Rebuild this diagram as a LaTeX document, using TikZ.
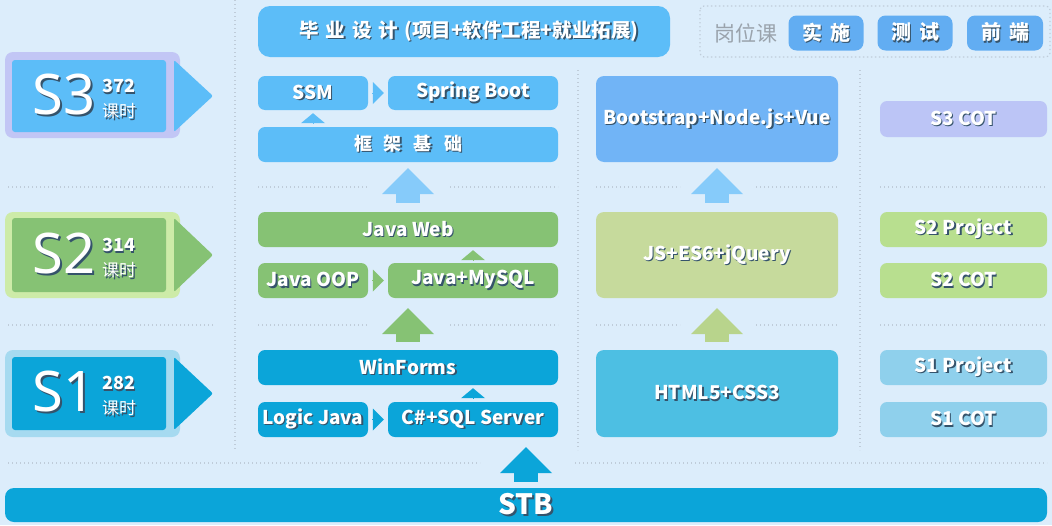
\documentclass[tikz,border=0pt]{standalone}
\usepackage{fontspec}
\setmainfont{Noto Sans CJK SC}
\newfontfamily\cjk{Noto Sans CJK SC}
\newfontfamily\bigf{Noto Sans}
\usetikzlibrary{arrows.meta,calc}
\definecolor{bg}{HTML}{DCEDFB}
\definecolor{cLB}{HTML}{5CBDF8}
\definecolor{cPill}{HTML}{62ADF2}
\definecolor{cBS}{HTML}{71B4F6}
\definecolor{cLav}{HTML}{BCC5F6}
\definecolor{cLavO}{HTML}{C2C6F5}
\definecolor{cArrLB}{HTML}{86CBFA}
\definecolor{cG}{HTML}{86C274}
\definecolor{cGO}{HTML}{CDEBA8}
\definecolor{cJS}{HTML}{C6DA9C}
\definecolor{cArrJS}{HTML}{B8D48C}
\definecolor{cGL}{HTML}{B8DF8F}
\definecolor{cT}{HTML}{0BA5D9}
\definecolor{cTO}{HTML}{A6DAF0}
\definecolor{cHT}{HTML}{4DBFE3}
\definecolor{cTL}{HTML}{8FD0EC}
\definecolor{tsh}{HTML}{35536B}
\definecolor{dotc}{HTML}{BFCCD9}
\definecolor{grayt}{HTML}{9AA3AC}
\newcommand\sht[2][1.3pt]{\leavevmode\rlap{\kern#1\raisebox{-#1}{\textcolor{tsh}{#2}}}#2}
\newcommand\latb{\fontsize{19}{22}\selectfont\bfseries}
\newcommand\cjkb{\cjk\fontsize{18}{22}\selectfont\bfseries}
\begin{document}
\begin{tikzpicture}[x=1pt,y=-1pt,
  bx/.style={rounded corners=7pt, inner sep=0pt, text=white, font=\latb},
  cbx/.style={rounded corners=7pt, inner sep=0pt, text=white, font=\cjkb},
  dotline/.style={draw=dotc, line width=1.2pt, dash pattern=on 1.4pt off 2.6pt},
  bigup/.style={line width=24pt, -{Triangle[width=52pt,length=26pt,line width=0pt]}},
  smalltri/.style={line width=0.1pt, -{Triangle[width=22pt,length=11pt,line width=0pt]}},
  smallup/.style={line width=0.1pt, -{Triangle[width=24pt,length=10pt,line width=0pt]}},
  bigs/.style={font=\bigf\fontsize{56}{60}\selectfont, text=white, inner sep=0pt},
  hrs/.style={font=\cjk\fontsize{17}{21}\selectfont, text=white, anchor=west, inner sep=0pt, align=left},
  pill/.style={cbx, fill=cPill, rounded corners=8pt, minimum height=35, font=\cjk\fontsize{20}{22}\selectfont\bfseries}
]
\fill[bg] (0,0) rectangle (1052,525);
\useasboundingbox (0,0) rectangle (1052,525);

% dotted guide lines
\foreach \yy in {187,325}{
  \draw[dotline] (8,\yy) -- (215,\yy);
  \draw[dotline] (258,\yy) -- (368,\yy);
  \draw[dotline] (450,\yy) -- (558,\yy);
  \draw[dotline] (596,\yy) -- (680,\yy);
  \draw[dotline] (756,\yy) -- (838,\yy);
  \draw[dotline] (880,\yy) -- (1047,\yy);
}
\draw[dotline] (8,463) -- (480,463);
\draw[dotline] (575,463) -- (1047,463);
\draw[dotline] (235,0) -- (235,450);
\draw[dotline] (578,70) -- (578,450);
\draw[dotline] (860,70) -- (860,450);

% top right dotted box
\draw[dotline, rounded corners=4pt] (700,6) rectangle (1050,57);
\node[font=\cjk\fontsize{21}{24}\selectfont, text=grayt, inner sep=0pt] (gwk) at (746,33) {岗位课};
\node[pill, minimum width=75] (p1) at (826,33) {\sht{实\hspace{8pt}施}};
\node[pill, minimum width=75] (p2) at (915,33) {\sht{测\hspace{8pt}试}};
\node[pill, minimum width=76] (p3) at (1005,33) {\sht{前\hspace{8pt}端}};

% S labels
\fill[cLavO, rounded corners=8pt] (5,52) rectangle (180,138);
\fill[cLB, rounded corners=3pt] (12,60) rectangle (166,132);
\fill[cLB, rounded corners=2pt] (174,60) -- (213,96) -- (174,132) -- cycle;
\node[bigs] (s3t) at (64,96) {\sht[2pt]{S3}};
\node[hrs] (s3h) at (102,100) {{\bfseries\fontsize{18}{21}\selectfont\sht{372}}\\[4pt]\sht{课时}};

\fill[cGO, rounded corners=8pt] (5,212) rectangle (180,298);
\fill[cG, rounded corners=3pt] (12,218) rectangle (166,292);
\fill[cG, rounded corners=2pt] (174,218) -- (213,255) -- (174,292) -- cycle;
\node[bigs] (s2t) at (64,255) {\sht[2pt]{S2}};
\node[hrs] (s2h) at (102,259) {{\bfseries\fontsize{18}{21}\selectfont\sht{314}}\\[4pt]\sht{课时}};

\fill[cTO, rounded corners=8pt] (5,350) rectangle (180,437);
\fill[cT, rounded corners=3pt] (12,357) rectangle (166,430);
\fill[cT, rounded corners=2pt] (174,357) -- (213,393.5) -- (174,430) -- cycle;
\node[bigs] (s1t) at (64,393) {\sht[2pt]{S1}};
\node[hrs] (s1h) at (102,397) {{\bfseries\fontsize{18}{21}\selectfont\sht{282}}\\[4pt]\sht{课时}};

% middle column
\node[cbx, fill=cLB, rounded corners=12pt, minimum width=412, minimum height=51, font=\cjk\fontsize{19.5}{22}\selectfont\bfseries] (ban) at (464,31.5) {\hspace{10pt}\sht{毕\hspace{7pt}业\hspace{7pt}设\hspace{7pt}计\hspace{6pt}(项目+软件工程+就业拓展)}};
\node[bx, fill=cLB, minimum width=110, minimum height=34] (ssm) at (313,93) {\sht{SSM}};
\node[bx, fill=cLB, minimum width=170, minimum height=34] (sb) at (473,93) {\sht{Spring Boot}};
\node[cbx, fill=cLB, minimum width=300, minimum height=35] (kj) at (408,144.5) {\sht{框\hspace{12pt}架\hspace{12pt}基\hspace{12pt}础}};
\node[bx, fill=cG, minimum width=300, minimum height=35] (jw) at (408,229.5) {\sht{Java Web}};
\node[bx, fill=cG, minimum width=110, minimum height=35] (oop) at (313,280.5) {\sht{Java OOP}};
\node[bx, fill=cG, minimum width=170, minimum height=35] (jm) at (473,280.5) {\sht{Java+MySQL}};
\node[bx, fill=cT, minimum width=300, minimum height=35] (wf) at (408,367.5) {\sht{WinForms}};
\node[bx, fill=cT, minimum width=110, minimum height=35] (lj) at (313,419.5) {\sht{Logic Java}};
\node[bx, fill=cT, minimum width=170, minimum height=35] (cs) at (473,419.5) {\sht{C\#+SQL Server}};
\node[bx, fill=cT, rounded corners=9pt, minimum width=1042, minimum height=34, font=\fontsize{28}{30}\selectfont\bfseries] (stb) at (526,505) {\sht[1.6pt]{STB}};

% right middle column
\node[bx, fill=cBS, rounded corners=8pt, minimum width=242, minimum height=86] (bs) at (717,119) {\sht{Bootstrap+Node.js+Vue}};
\node[bx, fill=cJS, rounded corners=8pt, minimum width=242, minimum height=86] (js) at (717,255) {\sht{JS+ES6+jQuery}};
\node[bx, fill=cHT, rounded corners=8pt, minimum width=242, minimum height=87] (ht) at (717,393.5) {\sht{HTML5+CSS3}};

% right column
\node[bx, fill=cLav, minimum width=167, minimum height=36] (s3c) at (963.5,119) {\sht{S3 COT}};
\node[bx, fill=cGL, minimum width=167, minimum height=35] (s2p) at (963.5,229.5) {\sht{S2 Project}};
\node[bx, fill=cGL, minimum width=167, minimum height=35] (s2c) at (963.5,280.5) {\sht{S2 COT}};
\node[bx, fill=cTL, minimum width=167, minimum height=35] (s1p) at (963.5,367.5) {\sht{S1 Project}};
\node[bx, fill=cTL, minimum width=167, minimum height=35] (s1c) at (963.5,419.5) {\sht{S1 COT}};

% small connectors
\draw[smalltri, cLB, shorten <=4pt, shorten >=4pt] (ssm.east) -- (sb.west);
\draw[smallup, cLB, shorten <=3pt, shorten >=3pt] (kj.north -| ssm.south) -- (ssm.south);
\draw[smalltri, cG, shorten <=4pt, shorten >=4pt] (oop.east) -- (jm.west);
\draw[smallup, cG, shorten <=3pt, shorten >=3pt] (jm.north) -- (jm.north |- jw.south);
\draw[smalltri, cT, shorten <=4pt, shorten >=4pt] (lj.east) -- (cs.west);
\draw[smallup, cT, shorten <=3pt, shorten >=3pt] (cs.north) -- (cs.north |- wf.south);

% big up arrows
\draw[bigup, cArrLB, shorten <=9pt, shorten >=6pt] (jw.north) -- (kj.south);
\draw[bigup, cG, shorten <=8pt, shorten >=10pt] (wf.north) -- (wf.north |- jm.south);
\draw[bigup, cT, shorten <=6pt, shorten >=10pt] (stb.north) -- (stb.north |- cs.south);
\draw[bigup, cArrLB, shorten <=9pt, shorten >=6pt] (js.north) -- (bs.south);
\draw[bigup, cArrJS, shorten <=8pt, shorten >=10pt] (ht.north) -- (ht.north |- js.south);
\end{tikzpicture}
\end{document}
